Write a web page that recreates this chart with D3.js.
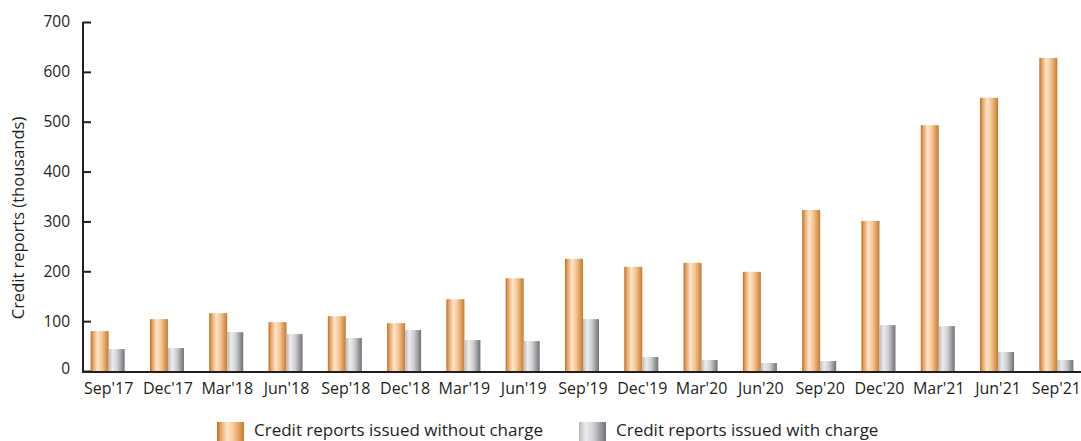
<!DOCTYPE html>
<html><head><meta charset="utf-8">
<script src="https://cdn.jsdelivr.net/npm/d3@7"></script>
<style>body{margin:0;background:#fff}svg{display:block}text{font-family:"Open Sans",sans-serif;fill:#231f20}</style>
</head><body><svg id="c" width="1081" height="441"></svg>
<script>
const categories = ["Sep'17","Dec'17","Mar'18","Jun'18","Sep'18","Dec'18","Mar'19","Jun'19","Sep'19","Dec'19","Mar'20","Jun'20","Sep'20","Dec'20","Mar'21","Jun'21","Sep'21"];
const withoutCharge = [80,104,116,98,110,96,144,186,225,209,217,199,323,301,493,548,628];
const withCharge = [44,46,78,74,66,82,62,60,104,28,22,16,20,92,90,38,22];
const yTicks = [0,100,200,300,400,500,600,700];
const seriesNames = ["Credit reports issued without charge","Credit reports issued with charge"];

const svg = d3.select("#c");
const defs = svg.append("defs");
function grad(id, stops){
  const g = defs.append("linearGradient").attr("id",id).attr("x1","0%").attr("x2","100%").attr("y1","0%").attr("y2","0%");
  stops.forEach(s=>g.append("stop").attr("offset",s[0]).attr("stop-color",s[1]));
}
grad("gOrange",[["0%","#c0691a"],["12%","#e39d5c"],["38%","#fee5ca"],["62%","#f5c796"],["100%","#c87a2c"]]);
grad("gGrey",[["0%","#b9babd"],["25%","#ececee"],["55%","#cdced1"],["100%","#6f7174"]]);

const x = d3.scaleBand().domain(categories).range([79,1087]);
const y = d3.scaleLinear().domain([0,700]).range([371,22]);
const wO = 18, wG = 16;

const g = svg.append("g");
categories.forEach((c,i)=>{
  const cx = x(c) + x.bandwidth()/2;
  g.append("rect").attr("x",cx-wO).attr("width",wO).attr("y",y(withoutCharge[i])).attr("height",y(0)-y(withoutCharge[i])).attr("fill","url(#gOrange)");
  g.append("rect").attr("x",cx).attr("width",wG).attr("y",y(withCharge[i])).attr("height",y(0)-y(withCharge[i])).attr("fill","url(#gGrey)");
});

// y axis
const ya = svg.append("g").attr("transform","translate(83,0)")
  .call(d3.axisRight(y).tickValues(yTicks).tickSize(8).tickFormat(""));
ya.select(".domain").attr("stroke","#231f20").attr("stroke-width",2).attr("d","M0,"+y(700)+"V"+y(0));
ya.selectAll(".tick line").attr("stroke","#231f20").attr("stroke-width",2);
svg.append("g").selectAll("text").data(yTicks).join("text")
  .attr("x",70).attr("y",d=>y(d)).attr("dy",d=>d===0?"0.2em":"0.35em").attr("text-anchor","end")
  .attr("font-size",15.5).text(d=>d);

// x axis baseline
const xa = svg.append("g").attr("transform","translate(0,"+(y(0)+1)+")")
  .call(d3.axisBottom(x).tickSize(0).tickPadding(11));
xa.select(".domain").attr("stroke","#231f20").attr("stroke-width",2.2).attr("d","M82,0H1081");
xa.selectAll(".tick text").attr("font-size",16).attr("font-family","'Open Sans',sans-serif").attr("fill","#231f20");
xa.selectAll(".tick").filter((d,i)=>i===categories.length-1).select("text").attr("text-anchor","end").attr("dx",x.bandwidth()/2-6);

svg.append("text").attr("transform","translate(24,218) rotate(-90)").attr("text-anchor","middle")
  .attr("font-size",16.5).text("Credit reports (thousands)");

// legend
const leg = svg.append("g");
const legX = [217, 579];
seriesNames.forEach((n,i)=>{
  leg.append("rect").attr("x",legX[i]).attr("y",422).attr("width",27).attr("height",22).attr("fill",i?"url(#gGrey)":"url(#gOrange)");
  leg.append("text").attr("x",legX[i]+37).attr("y",436).attr("font-size",17).text(n);
});
</script></body></html>
